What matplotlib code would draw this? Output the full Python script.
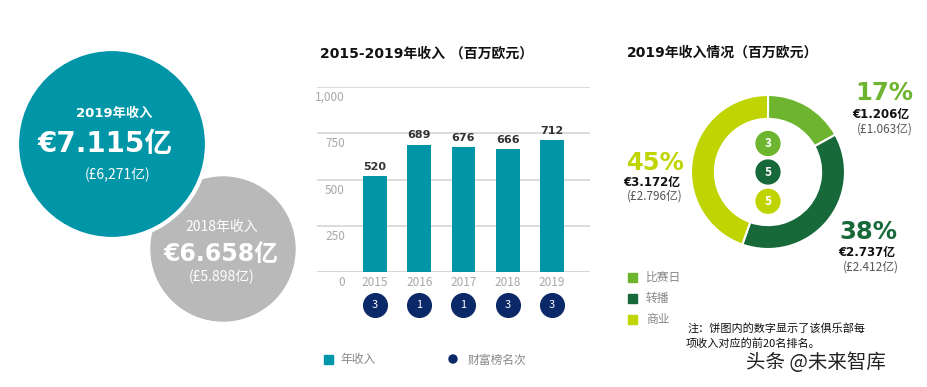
import matplotlib
matplotlib.use("Agg")
import matplotlib.pyplot as plt
import matplotlib.transforms as mtransforms
from matplotlib.patches import Circle

plt.rcParams['font.family'] = ['Noto Sans CJK SC', 'DejaVu Sans']
WIDE = ['DejaVu Sans', 'Noto Sans CJK SC']   # verdana-like latin, CJK fallback

# data
years = ['2015', '2016', '2017', '2018', '2019']
revenue = [520, 689, 676, 666, 712]
ranks = [3, 1, 1, 3, 3]
yticks = [0, 250, 500, 750, 1000]
ytick_labels = ['0', '250', '500', '750', '1,000']

seg_names = ['比赛日', '转播', '商业']
seg_values = [120.6, 273.7, 317.2]
seg_pct = ['17%', '38%', '45%']
seg_eur = ['€1.206亿', '€2.737亿', '€3.172亿']
seg_gbp = ['(£1.063亿)', '(£2.412亿)', '(£2.796亿)']
seg_ranks = [3, 5, 5]

TEAL = '#0095a7'
NAVY = '#0b2868'
GREY = '#b9b9b9'
seg_colors = ['#6db52e', '#17693a', '#bfd400']

W, H = 928, 387
fig = plt.figure(figsize=(W / 100, H / 100), dpi=100)

# overlay in pixel coords
bg = fig.add_axes([0, 0, 1, 1])
bg.set_xlim(0, W)
bg.set_ylim(H, 0)
bg.axis('off')

# left: headline circles
bg.add_patch(Circle((223, 249), 72, color=GREY, zorder=1))
bg.add_patch(Circle((112, 144), 95, facecolor=TEAL, edgecolor='white', lw=3, zorder=2))
bg.text(114, 113, '2019年收入', color='white', fontsize=9.5, weight='bold', family=WIDE,
        ha='center', va='center', zorder=3)
bg.text(105, 152, '€7.115亿', color='white', fontsize=20, weight='bold', family=WIDE,
        ha='center', va='baseline', zorder=3)
bg.text(118, 175, '(£6,271亿)', color='white', fontsize=10, ha='center', va='center', zorder=3)
bg.text(222, 227, '2018年收入', color='white', fontsize=10, ha='center', va='center', zorder=3)
bg.text(221, 261, '€6.658亿', color='white', fontsize=17, weight='bold', family=WIDE,
        ha='center', va='baseline', zorder=3)
bg.text(222, 277, '(£5.898亿)', color='white', fontsize=10, ha='center', va='center', zorder=3)

# middle: bar chart
x0, x1, y0, y1 = 317, 590, 272, 87
ax = fig.add_axes([x0 / W, 1 - y0 / H, (x1 - x0) / W, (y0 - y1) / H])
px = 44.25
ax.set_xlim((x0 - 375) / px, (x1 - 375) / px)
ax.set_ylim(0, 1000)
xs = list(range(len(years)))
ax.bar(xs, revenue, width=0.54, color=TEAL, zorder=2)
for v in yticks:
    ax.axhline(v, color='#d6d6d6', lw=1.2 if v else 1.4, zorder=1)
ax.axis('off')
down = mtransforms.offset_copy(ax.transData, fig=fig, y=-4, units='dots')
for v, lab in zip(yticks, ytick_labels):
    ax.text(-0.68, v, lab, ha='right', va='top', fontsize=8.5, color='#a8a8a8', transform=down)
for x, yr in zip(xs, years):
    ax.text(x, 0, yr, ha='center', va='top', fontsize=8.5, color='#a8a8a8', transform=down)
for x, v in zip(xs, revenue):
    ax.text(x, v + 22, str(v), ha='center', va='bottom', fontsize=8, weight='bold',
            family=WIDE, color='#333333')
rank_y = -(305 - y0) / ((y0 - y1) / 1000)
ax.scatter(xs, [rank_y] * len(xs), s=290, color=NAVY, clip_on=False, zorder=3)
for x, r in zip(xs, ranks):
    ax.text(x, rank_y, str(r), ha='center', va='center', color='white', fontsize=8, clip_on=False, zorder=4)

bg.text(320, 58, '2015-2019年收入 （百万欧元）', fontsize=10, weight='bold', family=WIDE,
        color='#111111', va='baseline')
bg.add_patch(plt.Rectangle((324, 355), 9, 9, color=TEAL))
bg.text(340, 360, '年收入', fontsize=8.5, color='#888888', va='center')
bg.add_patch(Circle((453, 359), 4, color=NAVY))
bg.text(468, 360, '财富榜名次', fontsize=8.5, color='#888888', va='center')

# right: donut
cx, cy, R = 768, 172, 77
ax2 = fig.add_axes([(cx - R) / W, 1 - (cy + R) / H, 2 * R / W, 2 * R / H])
ax2.pie(seg_values, colors=seg_colors, startangle=90, counterclock=False,
        wedgeprops=dict(width=0.31, edgecolor='white', linewidth=1.5))
ax2.set_xlim(-1, 1)
ax2.set_ylim(-1, 1)
for yy, r, c in zip([0.37, 0.0, -0.38], seg_ranks, seg_colors):
    ax2.add_patch(Circle((0, yy), 0.155, color=c))
    ax2.text(0, yy, str(r), ha='center', va='center', color='white', fontsize=8.5, weight='bold')

bg.text(627, 57, '2019年收入情况（百万欧元）', fontsize=10, weight='bold', family=WIDE,
        color='#111111', va='baseline')

# (pct x, pct baseline, eur x, eur baseline, gbp x, gbp baseline)
lab_pos = [(855, 100, 852, 118, 857, 133),
           (839, 239, 838, 256, 843, 271),
           (627, 170, 623, 186, 627, 200)]
for (px_, yp, ex, ye, gx, yg), pct, eur, gbp, c in zip(lab_pos, seg_pct, seg_eur, seg_gbp, seg_colors):
    bg.text(px_, yp, pct, fontsize=17.5, weight='bold', family=WIDE, color=c, va='baseline')
    bg.text(ex, ye, eur, fontsize=8.5, weight='bold', family=WIDE, color='#111111', va='baseline')
    bg.text(gx, yg, gbp, fontsize=8.5, color='#555555', va='baseline')

for i, (name, c) in enumerate(zip(seg_names, seg_colors)):
    yy = 277 + i * 21
    bg.add_patch(plt.Rectangle((628, yy - 4.5), 9, 9, color=c))
    bg.text(646, yy, name, fontsize=8.5, color='#888888', va='center')

bg.text(688, 328, '注：饼图内的数字显示了该俱乐部每', fontsize=8, color='#111111', va='center')
bg.text(686, 344, '项收入对应的前20名排名。', fontsize=8, color='#111111', va='center')
bg.text(746, 363, '头条 @未来智库', fontsize=14, color='#222222', va='center')

fig.savefig('out.png', dpi=100)
